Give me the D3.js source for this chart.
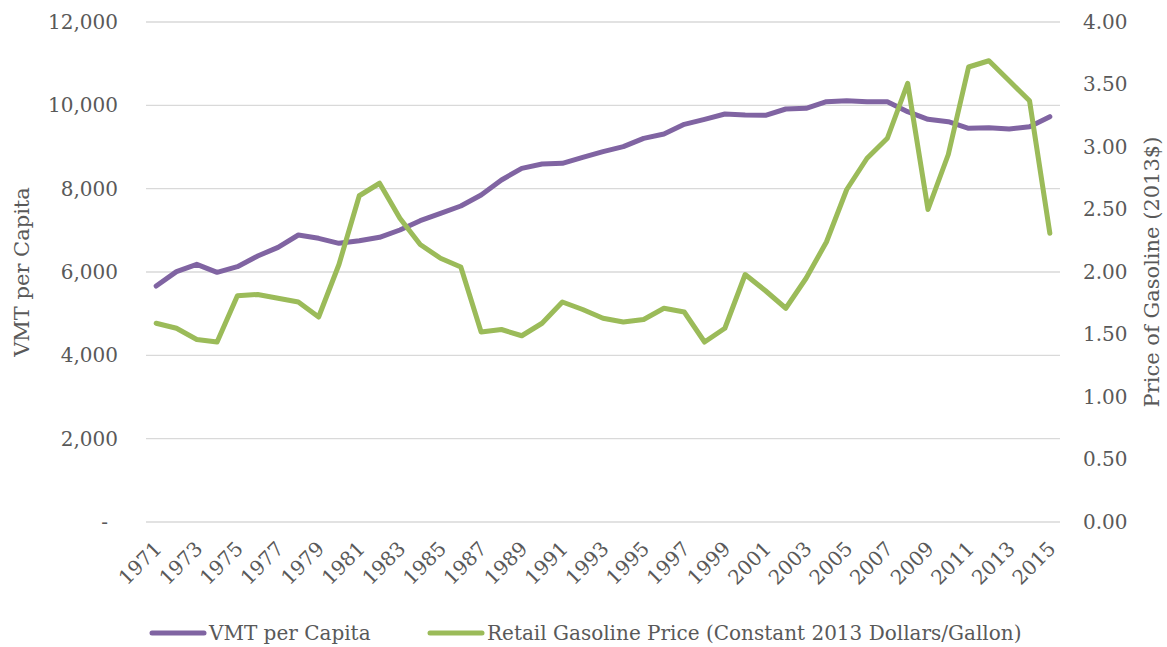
<!DOCTYPE html>
<html>
<head>
<meta charset="utf-8">
<script src="https://cdn.jsdelivr.net/npm/d3@7"></script>
<style>
  body { margin: 0; background: #fff; }
  text { font-family: "DejaVu Serif", serif; fill: #595959; }
</style>
</head>
<body>
<div id="chart"></div>
<script>
const years = d3.range(1971, 2016)
const vmtPerCapita = [
  5664, 6008, 6184, 5992, 6128, 6384, 6592, 6888, 6808, 6688,
  6752, 6832, 7008, 7232, 7408, 7584, 7848, 8208, 8488, 8592,
  8608, 8752, 8888, 9008, 9208, 9312, 9544, 9664, 9792, 9768,
  9760, 9912, 9928, 10088, 10112, 10088, 10088, 9848, 9664, 9608,
  9448, 9464, 9432, 9488, 9728
]
const gasPrice = [
  1.59, 1.55, 1.46, 1.44, 1.81, 1.82, 1.79, 1.76, 1.64, 2.06,
  2.61, 2.71, 2.43, 2.22, 2.11, 2.04, 1.52, 1.54, 1.49, 1.59,
  1.76, 1.70, 1.63, 1.60, 1.62, 1.71, 1.68, 1.44, 1.55, 1.98,
  1.85, 1.71, 1.95, 2.24, 2.66, 2.91, 3.07, 3.51, 2.50, 2.94,
  3.64, 3.69, 3.53, 3.37, 2.31
]
const leftTicks = [0, 2000, 4000, 6000, 8000, 10000, 12000]
const rightTicks = [0, 0.5, 1, 1.5, 2, 2.5, 3, 3.5, 4]
const seriesNames = ['VMT per Capita', 'Retail Gasoline Price (Constant 2013 Dollars/Gallon)']
const colors = ['#8064A2', '#9BBB59']

const width = 1167, height = 647
const plot = { left: 146, right: 1060, top: 22, bottom: 522 }

const svg = d3.select('#chart').append('svg')
  .attr('width', width)
  .attr('height', height)

const x = d3.scaleBand().domain(years).range([plot.left, plot.right])
const yLeft = d3.scaleLinear().domain([0, 12000]).range([plot.bottom, plot.top])
const yRight = d3.scaleLinear().domain([0, 4]).range([plot.bottom, plot.top])
const cx = d => x(d) + x.bandwidth() / 2

// gridlines
svg.append('g')
  .selectAll('line')
  .data(leftTicks)
  .enter().append('line')
  .attr('x1', plot.left).attr('x2', plot.right)
  .attr('y1', d => yLeft(d)).attr('y2', d => yLeft(d))
  .style('stroke', '#d9d9d9')
  .style('stroke-width', 1.3)

// left axis
const fmt = d3.format(',')
svg.append('g')
  .attr('transform', `translate(${plot.left - 28},0)`)
  .call(d3.axisLeft(yLeft).tickValues(leftTicks).tickSize(0).tickPadding(0)
    .tickFormat(d => d === 0 ? '-' : fmt(d)))
  .call(g => g.select('.domain').remove())
  .call(g => g.selectAll('text').style('font-size', '20px').style('font-family', '"DejaVu Serif", serif').style('fill', '#595959'))
  .call(g => g.selectAll('.tick').filter(d => d === 0).select('text').attr('x', -10))

// right axis
svg.append('g')
  .attr('transform', `translate(${plot.right + 23},0)`)
  .call(d3.axisRight(yRight).tickValues(rightTicks).tickSize(0).tickPadding(0)
    .tickFormat(d3.format('.2f')))
  .call(g => g.select('.domain').remove())
  .call(g => g.selectAll('text').style('font-size', '20px').style('font-family', '"DejaVu Serif", serif').style('fill', '#595959'))

// x axis labels (every other year)
svg.append('g')
  .selectAll('text')
  .data(years.filter((d, i) => i % 2 === 0))
  .enter().append('text')
  .attr('transform', d => `translate(${cx(d) + 2},${plot.bottom + 23}) rotate(-45)`)
  .attr('text-anchor', 'end')
  .attr('dy', '0.35em')
  .style('font-size', '20px')
  .text(d => d)

// axis titles
svg.append('text')
  .attr('transform', `translate(22,${(plot.top + plot.bottom) / 2}) rotate(-90)`)
  .attr('text-anchor', 'middle')
  .attr('dy', '0.35em')
  .style('font-size', '21px')
  .text('VMT per Capita')

svg.append('text')
  .attr('transform', `translate(1152,${(plot.top + plot.bottom) / 2}) rotate(-90)`)
  .attr('text-anchor', 'middle')
  .attr('dy', '0.35em')
  .style('font-size', '21px')
  .text('Price of Gasoline (2013$)')

// lines
const vmtLine = d3.line().x((d, i) => cx(years[i])).y(d => yLeft(d))
const priceLine = d3.line().x((d, i) => cx(years[i])).y(d => yRight(d))

svg.append('path')
  .datum(vmtPerCapita)
  .attr('d', vmtLine)
  .style('fill', 'none')
  .style('stroke', colors[0])
  .style('stroke-width', 5)
  .style('stroke-linejoin', 'round')
  .style('stroke-linecap', 'round')

svg.append('path')
  .datum(gasPrice)
  .attr('d', priceLine)
  .style('fill', 'none')
  .style('stroke', colors[1])
  .style('stroke-width', 5)
  .style('stroke-linejoin', 'round')
  .style('stroke-linecap', 'round')

// legend
const legendX = [152, 430]
const legend = svg.append('g')
  .selectAll('g')
  .data(seriesNames)
  .enter().append('g')
  .attr('transform', (d, i) => `translate(${legendX[i]},633)`)

legend.append('line')
  .attr('x1', 0).attr('x2', 52)
  .style('stroke', (d, i) => colors[i])
  .style('stroke-width', 5)
  .style('stroke-linecap', 'round')

legend.append('text')
  .attr('x', 57)
  .attr('dy', '0.35em')
  .style('font-size', '20px')
  .text(d => d)
</script>
</body>
</html>
